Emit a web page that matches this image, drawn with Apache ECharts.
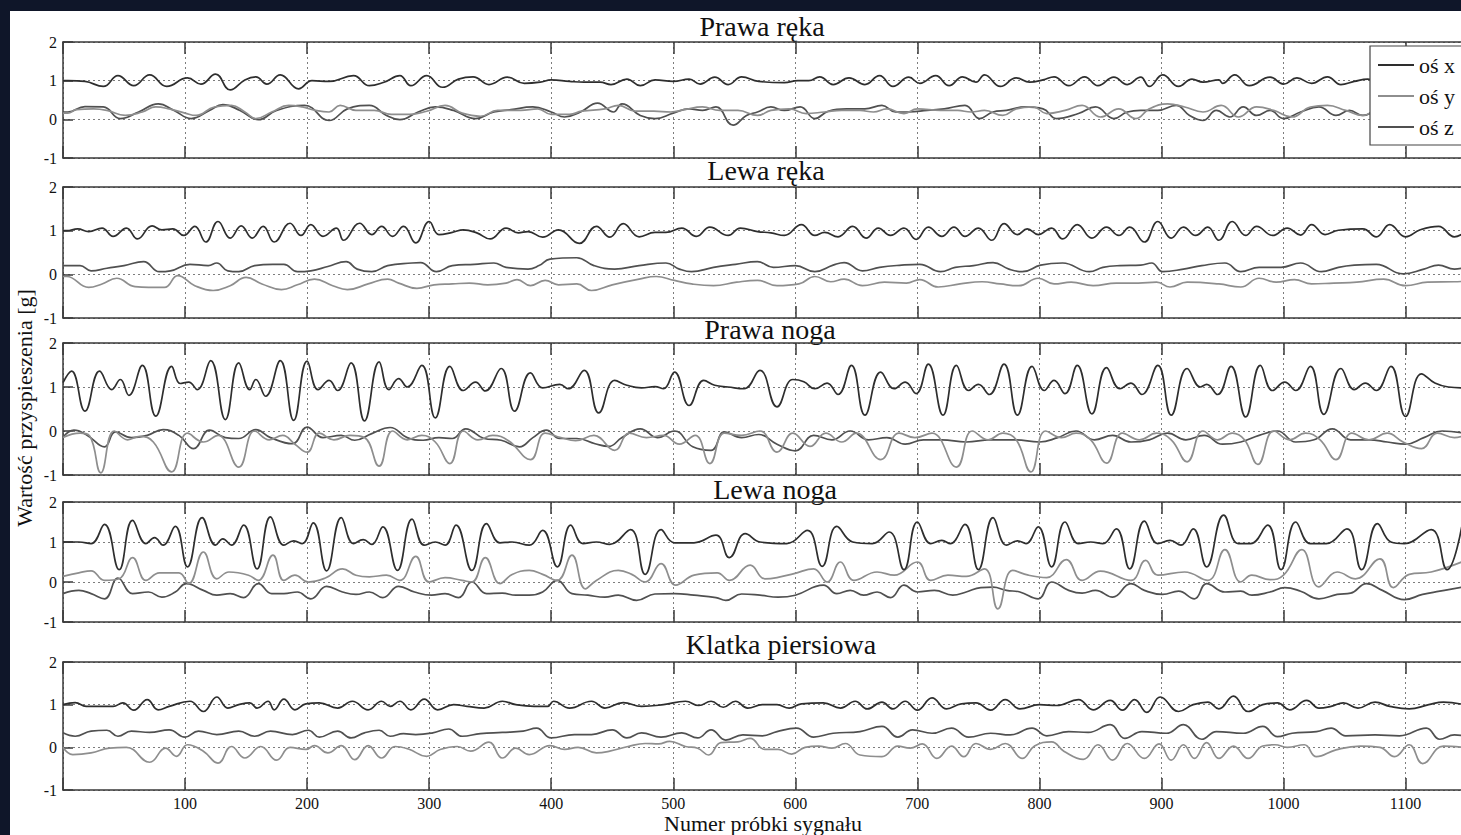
<!DOCTYPE html>
<html><head><meta charset="utf-8">
<script src="https://cdn.jsdelivr.net/npm/echarts@6/dist/echarts.min.js"></script>
<style>
html,body{margin:0;padding:0;width:1461px;height:835px;overflow:hidden;background:#0f1629;position:relative;}
#paper{position:absolute;left:10px;top:11px;width:1451px;height:824px;background:#fff;}
#chart{position:absolute;left:0;top:0;width:1520px;height:835px;}
</style></head><body><div id="paper"></div><div id="chart"></div>
<script>
const panelTitles = ['Prawa ręka','Lewa ręka','Prawa noga','Lewa noga','Klatka piersiowa'];
const axisNames = ['oś x','oś y','oś z'];
const yTickValues = [-1, 0, 1, 2];
const xTickStep = 100;
const xLastLabel = 1100;
const xAxisTitle = 'Numer próbki sygnału';
const yAxisTitle = 'Wartość przyspieszenia [g]';

// Prawa ręka
const prawaRekaX = [[0,1.0],[4,1.0],[18,0.98],[33,0.85],[45,1.13],[58,0.87],[71,1.15],[85,0.85],[102,1.07],[113,0.91],[125,1.17],[137,0.76],[149,1.02],[158,1.10],[167,0.91],[178,1.15],[193,0.79],[204,1.0],[218,0.98],[238,1.13],[251,0.87],[263,0.96],[276,1.13],[285,0.87],[298,1.13],[311,0.83],[324,1.04],[336,1.10],[349,0.90],[364,1.09],[378,0.93],[391,0.96],[400,1.02],[415,0.98],[427,0.96],[440,0.96],[449,0.90],[462,1.04],[473,0.87],[485,1.02],[500,0.98],[513,1.04],[522,0.91],[534,1.09],[545,0.90],[556,1.10],[570,0.98],[591,0.95],[602,1.0],[611,1.0],[620,1.10],[631,0.90],[644,1.07],[657,0.90],[669,1.13],[680,0.85],[693,1.09],[702,0.93],[715,1.13],[726,0.87],[737,1.10],[748,0.96],[755,1.15],[768,0.85],[781,1.07],[792,0.96],[803,1.02],[812,1.10],[824,0.87],[837,1.10],[848,0.87],[861,1.09],[872,0.90],[883,1.09],[890,0.85],[901,1.15],[914,0.85],[925,1.04],[934,0.96],[947,1.02],[950,0.93],[960,1.15],[972,0.87],[989,1.09],[1000,0.91],[1011,1.07],[1023,0.93],[1036,1.10],[1047,0.90],[1058,0.98],[1069,1.04],[1080,0.93],[1092,1.08],[1105,0.92],[1118,1.05],[1130,0.95],[1148,1.0]];
const prawaRekaY = [[0,0.16],[4,0.16],[11,0.25],[25,0.27],[36,0.23],[51,0.10],[65,0.19],[76,0.32],[87,0.27],[100,0.16],[109,0.10],[124,0.32],[138,0.36],[149,0.19],[158,0.02],[171,0.19],[185,0.36],[196,0.32],[207,0.23],[218,0.19],[227,0.36],[240,0.23],[255,0.23],[269,0.13],[284,0.13],[298,0.21],[313,0.36],[327,0.16],[342,0.08],[356,0.23],[375,0.23],[389,0.27],[400,0.13],[415,0.13],[425,0.21],[444,0.27],[455,0.36],[469,0.21],[484,0.21],[498,0.19],[509,0.25],[524,0.32],[538,0.23],[553,0.23],[569,0.10],[580,0.23],[595,0.27],[609,0.15],[624,0.19],[638,0.23],[653,0.23],[664,0.19],[675,0.27],[689,0.15],[700,0.27],[719,0.23],[733,0.23],[744,0.19],[755,0.23],[770,0.10],[781,0.27],[795,0.32],[806,0.15],[821,0.23],[835,0.36],[850,0.06],[865,0.27],[879,0.02],[890,0.27],[905,0.40],[919,0.32],[934,0.19],[949,0.36],[963,0.06],[978,0.32],[992,0.23],[1007,0.06],[1022,0.32],[1036,0.36],[1051,0.23],[1065,0.10],[1080,0.30],[1095,0.20],[1110,0.10],[1125,0.25],[1148,0.15]];
const prawaRekaZ = [[0,0.19],[4,0.19],[18,0.33],[33,0.32],[47,0.02],[62,0.19],[78,0.40],[91,0.23],[105,0.02],[120,0.23],[131,0.38],[145,0.23],[160,-0.01],[175,0.23],[198,0.36],[218,-0.03],[233,0.27],[251,0.36],[265,0.10],[276,-0.01],[291,0.19],[305,0.32],[320,0.23],[338,0.02],[353,0.19],[367,0.25],[385,0.32],[400,0.19],[411,0.06],[424,0.19],[438,0.42],[451,0.19],[458,0.40],[473,0.10],[485,0.02],[500,0.16],[513,0.27],[524,0.23],[535,0.32],[549,-0.15],[560,0.10],[569,0.19],[580,0.32],[591,0.23],[604,0.32],[616,0.02],[627,0.21],[642,0.27],[657,0.27],[671,0.36],[682,0.19],[693,0.19],[708,0.23],[722,0.27],[739,0.36],[751,0.02],[762,0.19],[773,0.23],[788,0.32],[803,0.27],[814,0.02],[832,0.15],[846,0.32],[861,0.02],[872,0.19],[883,0.23],[897,0.23],[912,0.36],[923,0.10],[934,-0.03],[945,0.23],[956,0.06],[967,0.32],[978,0.10],[989,0.23],[1000,0.02],[1014,0.19],[1029,0.32],[1043,0.10],[1054,0.23],[1065,0.10],[1080,0.25],[1095,0.10],[1110,0.28],[1125,0.08],[1148,0.20]];

// Lewa ręka
const lewaRekaX = [[0,1.0],[3,1.0],[12,1.04],[21,0.98],[32,1.06],[41,0.87],[52,1.06],[61,0.81],[73,1.11],[81,1.02],[90,1.04],[99,0.89],[108,1.10],[117,0.74],[127,1.21],[137,0.83],[146,1.11],[155,0.83],[164,1.10],[173,0.74],[186,1.17],[195,0.89],[203,1.14],[213,0.87],[224,1.06],[230,0.78],[243,1.17],[253,0.91],[261,1.10],[270,0.87],[279,1.10],[289,0.72],[300,1.21],[308,0.91],[319,0.96],[328,1.02],[339,0.95],[350,0.81],[363,1.06],[373,0.95],[381,0.98],[393,0.85],[406,1.02],[423,0.71],[437,1.10],[448,0.85],[459,1.16],[472,0.86],[485,0.96],[494,0.96],[507,1.06],[519,0.87],[530,1.08],[545,0.89],[555,1.06],[569,0.98],[580,0.95],[591,0.89],[605,1.14],[616,0.89],[624,0.96],[635,0.86],[647,1.10],[658,0.83],[668,1.06],[678,0.89],[689,1.06],[699,0.80],[709,1.08],[720,0.87],[730,1.08],[739,0.87],[750,1.06],[761,0.78],[771,1.16],[782,0.91],[790,1.04],[799,0.91],[810,1.06],[819,0.81],[831,1.14],[843,0.83],[855,1.08],[865,0.89],[874,1.08],[886,0.74],[897,1.21],[908,0.83],[918,1.08],[928,0.89],[938,1.08],[947,0.78],[958,1.21],[969,0.89],[978,1.10],[991,0.89],[1003,1.06],[1014,0.90],[1023,1.14],[1034,0.91],[1045,1.01],[1065,1.04],[1076,0.86],[1087,1.14],[1100,0.86],[1112,1.02],[1127,1.10],[1140,0.86],[1148,0.95]];
const lewaRekaY = [[0,-0.05],[3,-0.05],[21,-0.30],[32,-0.22],[44,-0.09],[59,-0.28],[83,-0.30],[94,-0.03],[108,-0.26],[123,-0.37],[137,-0.26],[150,-0.07],[163,-0.22],[179,-0.35],[192,-0.24],[206,-0.11],[221,-0.26],[233,-0.35],[250,-0.22],[266,-0.11],[275,-0.20],[290,-0.32],[304,-0.24],[319,-0.22],[333,-0.20],[348,-0.24],[363,-0.20],[372,-0.12],[383,-0.26],[395,-0.14],[406,-0.24],[421,-0.22],[433,-0.37],[450,-0.24],[472,-0.11],[486,-0.05],[501,-0.14],[515,-0.22],[533,-0.26],[552,-0.18],[569,-0.14],[585,-0.26],[603,-0.22],[616,-0.05],[629,-0.17],[640,-0.11],[655,-0.26],[673,-0.18],[691,-0.20],[702,-0.12],[717,-0.29],[735,-0.22],[753,-0.17],[768,-0.22],[783,-0.26],[799,-0.09],[812,-0.22],[826,-0.18],[844,-0.26],[863,-0.20],[881,-0.20],[896,-0.18],[907,-0.29],[921,-0.18],[947,-0.22],[965,-0.29],[980,-0.09],[994,-0.18],[1009,-0.12],[1023,-0.22],[1041,-0.20],[1060,-0.18],[1082,-0.11],[1100,-0.26],[1118,-0.18],[1140,-0.17],[1148,-0.16]];
const lewaRekaZ = [[0,0.20],[3,0.20],[14,0.20],[23,0.08],[36,0.14],[50,0.20],[66,0.29],[79,0.06],[88,0.08],[104,0.23],[119,0.20],[126,0.26],[135,0.08],[144,0.06],[157,0.20],[172,0.23],[181,0.23],[192,0.06],[203,0.08],[217,0.18],[232,0.29],[241,0.12],[253,0.06],[266,0.20],[286,0.26],[293,0.27],[306,0.06],[319,0.20],[337,0.23],[353,0.26],[363,0.16],[381,0.12],[390,0.20],[399,0.35],[421,0.38],[435,0.20],[452,0.12],[472,0.20],[494,0.26],[505,0.12],[515,0.06],[533,0.16],[551,0.23],[569,0.29],[582,0.16],[600,0.20],[616,0.06],[631,0.21],[640,0.27],[655,0.08],[669,0.16],[687,0.21],[702,0.23],[719,0.06],[731,0.16],[746,0.20],[762,0.27],[775,0.12],[786,0.06],[801,0.21],[819,0.26],[841,0.06],[852,0.16],[866,0.20],[883,0.21],[892,0.26],[901,0.06],[918,0.12],[933,0.20],[952,0.26],[965,0.06],[980,0.16],[998,0.16],[1014,0.26],[1031,0.06],[1045,0.16],[1058,0.21],[1076,0.23],[1098,0.01],[1115,0.12],[1127,0.21],[1140,0.12],[1148,0.15]];

// Prawa noga
const prawaNogaX = [[0,1.1],[7,1.36],[18,0.45],[30,1.36],[40,0.94],[47,1.17],[54,0.81],[65,1.49],[76,0.34],[89,1.47],[96,1.08],[103,1.11],[110,0.94],[121,1.60],[133,0.26],[144,1.55],[153,0.94],[158,1.17],[166,0.79],[178,1.60],[189,0.24],[200,1.59],[209,0.94],[218,1.15],[225,0.92],[236,1.55],[247,0.23],[259,1.57],[267,0.94],[275,1.19],[282,1.0],[294,1.49],[305,0.30],[317,1.47],[328,0.92],[338,1.11],[346,0.91],[359,1.42],[370,0.45],[383,1.32],[393,0.98],[407,1.06],[414,0.96],[427,1.38],[439,0.41],[452,1.15],[462,1.04],[474,0.98],[485,1.01],[492,0.96],[501,1.34],[513,0.58],[525,1.15],[534,1.04],[545,1.0],[558,0.96],[571,1.38],[585,0.55],[598,1.17],[607,1.12],[616,0.96],[626,1.09],[635,0.83],[646,1.49],[657,0.36],[670,1.34],[681,0.96],[690,1.11],[699,0.85],[709,1.52],[721,0.36],[732,1.49],[742,0.92],[750,1.06],[759,0.83],[771,1.52],[782,0.36],[794,1.47],[804,0.92],[812,1.15],[821,0.85],[831,1.49],[843,0.39],[855,1.44],[866,0.96],[875,1.09],[884,0.83],[897,1.49],[908,0.36],[921,1.42],[932,1.0],[937,1.06],[946,0.83],[957,1.47],[969,0.32],[981,1.49],[991,0.92],[1001,1.11],[1010,0.92],[1022,1.47],[1033,0.38],[1047,1.42],[1058,0.94],[1067,1.09],[1076,0.92],[1088,1.47],[1100,0.33],[1113,1.30],[1124,1.09],[1135,1.0],[1148,0.98]];
const prawaNogaY = [[0,-0.15],[14,-0.05],[22,-0.12],[31,-0.95],[42,0.0],[53,-0.2],[63,-0.12],[74,-0.25],[89,-0.93],[102,-0.05],[115,-0.25],[127,-0.1],[144,-0.82],[157,0.0],[169,-0.2],[180,-0.1],[190,-0.3],[200,-0.48],[210,-0.05],[222,-0.2],[235,-0.1],[247,-0.15],[259,-0.8],[270,0.0],[282,-0.2],[294,-0.1],[305,-0.25],[317,-0.74],[328,0.0],[340,-0.2],[352,-0.1],[365,-0.22],[383,-0.65],[395,-0.05],[408,-0.15],[420,-0.22],[435,-0.1],[452,-0.44],[464,-0.05],[478,-0.15],[492,-0.1],[505,-0.3],[518,-0.1],[530,-0.74],[542,-0.05],[556,-0.1],[571,0.0],[585,-0.48],[598,-0.05],[612,-0.35],[625,-0.05],[638,-0.25],[650,-0.05],[670,-0.65],[685,-0.05],[698,-0.15],[712,-0.05],[732,-0.82],[745,0.0],[758,-0.2],[770,-0.05],[781,-0.2],[793,-0.93],[805,0.0],[818,-0.15],[830,-0.05],[842,-0.2],[855,-0.73],[868,-0.05],[882,-0.2],[896,-0.05],[908,-0.2],[921,-0.70],[934,0.0],[946,-0.2],[958,-0.05],[968,-0.2],[979,-0.76],[992,0.0],[1005,-0.2],[1018,-0.05],[1030,-0.2],[1043,-0.65],[1056,-0.05],[1070,-0.2],[1085,-0.05],[1098,-0.25],[1113,-0.4],[1126,-0.05],[1140,-0.15],[1148,-0.1]];
const prawaNogaZ = [[0,-0.14],[9,0.02],[20,-0.10],[34,-0.36],[43,-0.02],[56,-0.15],[69,-0.10],[82,0.03],[95,-0.10],[107,-0.40],[120,0.02],[133,-0.15],[144,-0.17],[158,0.03],[170,-0.15],[188,-0.29],[200,0.09],[213,-0.15],[228,-0.10],[239,-0.21],[253,-0.06],[268,0.08],[282,-0.15],[295,-0.21],[308,-0.15],[319,-0.17],[330,0.05],[345,-0.17],[359,-0.21],[374,-0.36],[385,-0.15],[396,0.02],[407,-0.17],[421,-0.17],[436,-0.29],[447,-0.35],[458,-0.15],[473,0.05],[487,-0.15],[501,0.0],[516,-0.36],[531,-0.44],[542,-0.02],[556,-0.15],[570,-0.08],[585,-0.3],[600,-0.45],[615,-0.1],[630,-0.2],[645,0.0],[660,-0.2],[675,-0.15],[690,-0.3],[705,-0.2],[720,-0.2],[740,-0.25],[760,-0.2],[780,-0.2],[800,-0.25],[815,-0.15],[830,0.0],[845,-0.2],[860,-0.1],[875,-0.25],[890,-0.2],[905,-0.05],[920,-0.2],[935,-0.1],[950,-0.3],[965,-0.25],[980,-0.1],[995,0.0],[1010,-0.25],[1025,-0.2],[1040,0.05],[1055,-0.2],[1070,-0.2],[1085,-0.25],[1100,-0.3],[1115,-0.15],[1130,0.0],[1148,-0.05]];

// Lewa noga
const lewaNogaX = [[0,1.0],[13,1.0],[23,0.96],[34,1.44],[46,0.31],[57,1.54],[68,0.96],[75,1.11],[82,0.92],[92,1.39],[102,0.38],[114,1.61],[125,0.92],[131,1.08],[138,0.92],[148,1.42],[159,0.33],[170,1.63],[181,0.92],[189,1.03],[196,0.96],[205,1.48],[216,0.28],[228,1.61],[238,0.96],[246,1.06],[253,0.94],[262,1.38],[274,0.29],[286,1.57],[296,0.92],[305,1.0],[313,0.92],[322,1.42],[335,0.29],[347,1.46],[358,0.98],[368,1.0],[382,0.92],[393,1.29],[405,0.38],[416,1.42],[426,0.96],[437,1.0],[448,0.94],[465,1.31],[477,0.19],[490,1.31],[501,0.98],[517,0.98],[535,1.17],[546,0.61],[559,1.21],[571,1.0],[593,0.96],[610,1.29],[622,0.39],[634,1.39],[647,1.0],[663,0.96],[677,1.25],[689,0.31],[700,1.5],[711,0.96],[720,1.04],[727,0.96],[739,1.44],[750,0.31],[762,1.61],[773,0.92],[782,1.03],[789,0.96],[799,1.38],[810,0.38],[821,1.5],[832,0.96],[842,1.0],[852,0.96],[863,1.33],[874,0.33],[886,1.52],[897,0.96],[907,1.04],[916,0.92],[926,1.33],[937,0.38],[951,1.67],[963,0.96],[973,0.96],[987,1.42],[998,0.31],[1010,1.5],[1022,0.96],[1035,0.96],[1052,1.33],[1064,0.31],[1077,1.46],[1088,1.0],[1099,0.96],[1121,1.31],[1134,0.31],[1146,1.38]];
const lewaNogaY = [[0,0.14],[13,0.23],[23,0.28],[34,0.04],[46,0.08],[57,0.61],[68,0.04],[79,0.23],[95,0.23],[103,-0.04],[115,0.75],[126,0.08],[136,0.25],[152,0.17],[160,0.04],[172,0.67],[181,0.04],[190,0.17],[201,0.0],[215,0.1],[229,0.33],[240,0.17],[251,0.13],[265,0.17],[276,0.04],[289,0.64],[300,0.0],[313,0.11],[327,0.04],[335,0.0],[346,0.61],[358,-0.04],[368,0.19],[382,0.29],[393,0.19],[405,0.04],[417,0.67],[428,-0.17],[437,0.04],[455,0.29],[466,0.19],[477,0.0],[490,0.46],[502,-0.08],[517,0.17],[536,0.23],[546,0.04],[563,0.42],[575,0.08],[585,0.11],[599,0.21],[615,0.33],[626,0.0],[637,0.5],[648,0.04],[667,0.25],[681,0.17],[700,0.5],[711,0.04],[725,0.17],[740,0.14],[755,0.33],[766,-0.67],[778,0.29],[791,0.17],[806,0.11],[822,0.56],[835,0.04],[850,0.27],[875,0.04],[887,0.54],[897,0.17],[919,0.25],[938,0.04],[952,0.81],[965,0.0],[974,0.17],[989,0.06],[1000,0.17],[1015,0.81],[1029,-0.12],[1044,0.25],[1059,0.08],[1079,0.58],[1090,-0.14],[1103,0.19],[1121,0.25],[1146,0.5]];
const lewaNogaZ = [[0,-0.29],[13,-0.21],[23,-0.29],[34,-0.42],[45,0.10],[57,-0.29],[70,-0.25],[81,-0.38],[92,-0.25],[101,-0.04],[115,-0.21],[126,-0.33],[137,-0.29],[148,-0.39],[160,-0.04],[171,-0.29],[181,-0.29],[192,-0.25],[203,-0.42],[216,-0.11],[229,-0.25],[240,-0.31],[251,-0.25],[262,-0.39],[275,-0.11],[288,-0.25],[302,-0.33],[313,-0.29],[324,-0.39],[335,0.0],[347,-0.29],[360,-0.28],[371,-0.33],[382,-0.33],[393,-0.25],[405,0.04],[417,-0.29],[430,-0.33],[444,-0.38],[455,-0.33],[470,-0.46],[485,-0.30],[501,-0.29],[517,-0.33],[535,-0.39],[543,-0.46],[556,-0.30],[571,-0.33],[586,-0.38],[600,-0.33],[623,-0.08],[634,-0.29],[645,-0.21],[656,-0.33],[667,-0.25],[678,-0.39],[689,-0.08],[700,-0.25],[714,-0.21],[729,-0.33],[740,-0.25],[752,-0.14],[762,-0.13],[773,-0.21],[784,-0.25],[799,-0.42],[810,0.0],[824,-0.21],[835,-0.28],[846,-0.21],[860,-0.38],[875,-0.04],[886,-0.21],[901,-0.31],[914,-0.23],[927,-0.42],[937,-0.04],[952,-0.25],[965,-0.23],[974,-0.33],[989,-0.25],[1001,-0.14],[1014,-0.23],[1029,-0.42],[1044,-0.31],[1055,-0.28],[1068,-0.04],[1081,-0.21],[1099,-0.44],[1114,-0.31],[1128,-0.23],[1146,-0.13]];

// Klatka piersiowa
const klatkaX = [[0,1.0],[10,1.05],[19,0.96],[41,0.96],[49,1.04],[58,0.87],[69,1.12],[78,0.88],[87,0.96],[104,1.08],[115,0.84],[126,1.18],[135,0.92],[144,1.0],[153,1.04],[159,0.92],[168,1.08],[173,0.88],[181,1.13],[190,0.88],[199,1.02],[210,1.04],[225,0.92],[237,1.08],[250,0.88],[261,1.08],[268,0.96],[276,1.08],[285,0.88],[296,1.13],[307,0.88],[320,1.0],[331,0.96],[345,0.92],[360,1.08],[371,1.0],[386,0.96],[397,0.96],[402,1.08],[415,0.92],[433,1.08],[444,0.92],[459,1.05],[474,0.96],[492,1.0],[510,1.08],[521,0.98],[531,1.08],[541,0.94],[551,1.08],[561,0.92],[573,1.0],[585,1.0],[595,0.92],[605,1.02],[623,1.04],[637,0.92],[649,1.08],[659,0.90],[671,1.06],[680,0.90],[690,1.08],[700,0.87],[712,1.16],[724,0.90],[736,1.02],[748,1.04],[760,0.87],[772,1.12],[784,0.90],[800,1.0],[814,0.98],[832,1.12],[844,0.88],[858,1.10],[868,0.87],[878,1.12],[888,0.82],[899,1.18],[914,0.84],[926,1.0],[938,1.06],[947,0.90],[959,1.20],[971,0.84],[983,1.0],[995,1.04],[1005,0.88],[1019,1.10],[1029,0.92],[1039,0.96],[1049,1.04],[1061,0.92],[1075,1.06],[1087,0.96],[1103,0.90],[1119,1.0],[1131,1.06],[1148,1.0]];
const klatkaY = [[0,0.0],[8,-0.17],[23,-0.13],[38,-0.02],[52,0.0],[71,-0.35],[84,-0.02],[93,-0.21],[102,0.06],[115,-0.09],[127,-0.37],[138,0.02],[149,-0.25],[162,0.02],[175,-0.30],[186,0.0],[199,-0.05],[206,0.04],[217,-0.13],[228,0.04],[239,-0.29],[250,0.04],[261,-0.25],[272,0.02],[283,-0.04],[298,-0.21],[309,-0.05],[323,0.02],[334,-0.09],[349,0.12],[360,-0.25],[371,-0.02],[382,-0.17],[399,0.04],[411,-0.05],[422,0.0],[437,-0.13],[448,-0.09],[463,0.02],[477,0.09],[488,0.08],[497,0.14],[510,0.02],[520,-0.02],[529,-0.18],[539,0.11],[553,0.13],[563,0.21],[575,-0.05],[586,-0.05],[597,-0.16],[608,0.0],[619,0.03],[630,-0.02],[641,0.09],[653,-0.18],[671,-0.22],[684,0.03],[694,-0.02],[704,0.08],[716,-0.26],[728,0.03],[738,-0.22],[748,0.09],[760,-0.05],[772,0.09],[786,-0.26],[796,0.03],[810,0.13],[820,-0.09],[836,-0.28],[848,0.06],[860,-0.30],[872,0.09],[886,-0.26],[898,0.08],[908,-0.30],[918,0.06],[927,-0.26],[937,0.11],[947,-0.26],[959,0.03],[971,-0.26],[983,0.03],[993,0.06],[1003,0.0],[1017,0.06],[1027,-0.22],[1043,-0.06],[1063,0.03],[1079,0.0],[1091,-0.22],[1103,0.06],[1114,-0.38],[1131,0.03],[1148,0.0]];
const klatkaZ = [[0,0.34],[10,0.26],[23,0.38],[36,0.40],[45,0.26],[56,0.38],[71,0.35],[87,0.41],[100,0.24],[111,0.38],[126,0.30],[144,0.38],[157,0.26],[170,0.38],[188,0.30],[201,0.40],[210,0.24],[225,0.38],[236,0.22],[247,0.34],[259,0.40],[268,0.26],[279,0.32],[289,0.30],[303,0.34],[316,0.43],[327,0.26],[342,0.32],[360,0.35],[377,0.38],[388,0.45],[400,0.22],[419,0.30],[433,0.30],[450,0.41],[462,0.22],[474,0.34],[490,0.24],[507,0.34],[520,0.22],[531,0.41],[543,0.17],[557,0.29],[573,0.27],[585,0.37],[601,0.45],[615,0.24],[631,0.33],[653,0.37],[671,0.49],[684,0.24],[696,0.41],[712,0.33],[728,0.45],[742,0.24],[760,0.33],[776,0.29],[794,0.45],[806,0.27],[824,0.37],[840,0.35],[858,0.53],[870,0.21],[884,0.37],[904,0.33],[918,0.53],[933,0.19],[945,0.37],[967,0.33],[983,0.49],[995,0.25],[1007,0.33],[1027,0.37],[1039,0.45],[1051,0.27],[1075,0.29],[1095,0.27],[1117,0.45],[1128,0.19],[1140,0.29],[1148,0.27]];

const panelSeries = [
  [prawaRekaX, prawaRekaY, prawaRekaZ],
  [lewaRekaX, lewaRekaY, lewaRekaZ],
  [prawaNogaX, prawaNogaY, prawaNogaZ],
  [lewaNogaX, lewaNogaY, lewaNogaZ],
  [klatkaX, klatkaY, klatkaZ]
];

// ---- layout / style (not data) ----
const FONT = '"Liberation Serif", "DejaVu Serif", serif';
const layout = [
  {top: 42, height: 116, titleX: 762, titleY: 26},
  {top: 187, height: 131, titleX: 766, titleY: 170},
  {top: 343, height: 132, titleX: 770, titleY: 329},
  {top: 502, height: 120, titleX: 775, titleY: 489},
  {top: 662, height: 128, titleX: 781, titleY: 644}
];
const lineColors = ['#2e2e2e', '#8e8e8e', '#505050'];
const frameColor = '#3a3a3a';
const gridLeft = 63, gridWidth = 1428, xMax = 1170;

const grids = [], xAxes = [], yAxes = [], series = [];
layout.forEach((L, p) => {
  grids.push({left: gridLeft, width: gridWidth, top: L.top, height: L.height, containLabel: false});
  xAxes.push({
    gridIndex: p, type: 'value', min: 0, max: xMax, interval: xTickStep, position: 'bottom',
    axisLine: {show: true, onZero: false, lineStyle: {color: frameColor, width: 1.5}},
    axisTick: {show: true, inside: true, length: 12, lineStyle: {color: frameColor, width: 1.5}},
    axisLabel: {show: p === 4, fontFamily: FONT, fontSize: 16, color: '#111', margin: 5,
      showMaxLabel: false,
      formatter: v => ((v === 0 || v > xLastLabel || v % xTickStep !== 0) ? '' : String(v))},
    splitLine: {show: true, lineStyle: {type: [2, 3], color: '#7d7d7d', width: 1}}
  });
  xAxes.push({
    gridIndex: p, type: 'value', min: 0, max: xMax, interval: xTickStep, position: 'top',
    axisLine: {show: true, onZero: false, lineStyle: {color: frameColor, width: 1.5}},
    axisTick: {show: true, inside: true, length: 12, lineStyle: {color: frameColor, width: 1.5}},
    axisLabel: {show: false}, splitLine: {show: false}
  });
  yAxes.push({
    gridIndex: p, type: 'value', min: yTickValues[0], max: yTickValues[yTickValues.length - 1], interval: 1,
    axisLine: {show: true, onZero: false, lineStyle: {color: frameColor, width: 1.5}},
    axisTick: {show: true, inside: true, length: 10, lineStyle: {color: frameColor, width: 1.5}},
    axisLabel: {fontFamily: FONT, fontSize: 16, color: '#111', margin: 6},
    splitLine: {show: true, lineStyle: {type: [2, 3], color: '#7d7d7d', width: 1}}
  });
  panelSeries[p].forEach((data, k) => {
    series.push({
      type: 'line', name: axisNames[k], xAxisIndex: 2 * p, yAxisIndex: p,
      data: data, showSymbol: false, symbol: 'none', smooth: 0.45,
      lineStyle: {color: lineColors[k], width: 1.7}, itemStyle: {color: lineColors[k]},
      animation: false, clip: true, z: 3 - k
    });
  });
});

const graphics = layout.map((L, p) => ({
  type: 'text', x: L.titleX, y: L.titleY, silent: true,
  style: {text: panelTitles[p], font: '28px ' + FONT, fill: '#111', textAlign: 'center', textVerticalAlign: 'middle'}
}));
graphics.push({type: 'text', x: 763, y: 823, silent: true,
  style: {text: xAxisTitle, font: '22px ' + FONT, fill: '#111', textAlign: 'center', textVerticalAlign: 'middle'}});
graphics.push({type: 'text', x: 24, y: 408, rotation: Math.PI / 2, silent: true,
  style: {text: yAxisTitle, font: '22px ' + FONT, fill: '#111', textAlign: 'center', textVerticalAlign: 'middle'}});

const chart = echarts.init(document.getElementById('chart'), null, {renderer: 'svg'});
chart.setOption({
  animation: false,
  grid: grids, xAxis: xAxes, yAxis: yAxes, series: series,
  legend: {
    data: axisNames, orient: 'vertical', left: 1370, top: 46,
    padding: [8, 60, 7, 8], itemGap: 9, itemWidth: 36, itemHeight: 2, icon: 'rect',
    backgroundColor: '#fff', borderColor: '#444', borderWidth: 1.2, borderRadius: 0,
    textStyle: {fontFamily: FONT, fontSize: 22, color: '#111'}, selectedMode: false
  },
  graphic: graphics
});
</script></body></html>
